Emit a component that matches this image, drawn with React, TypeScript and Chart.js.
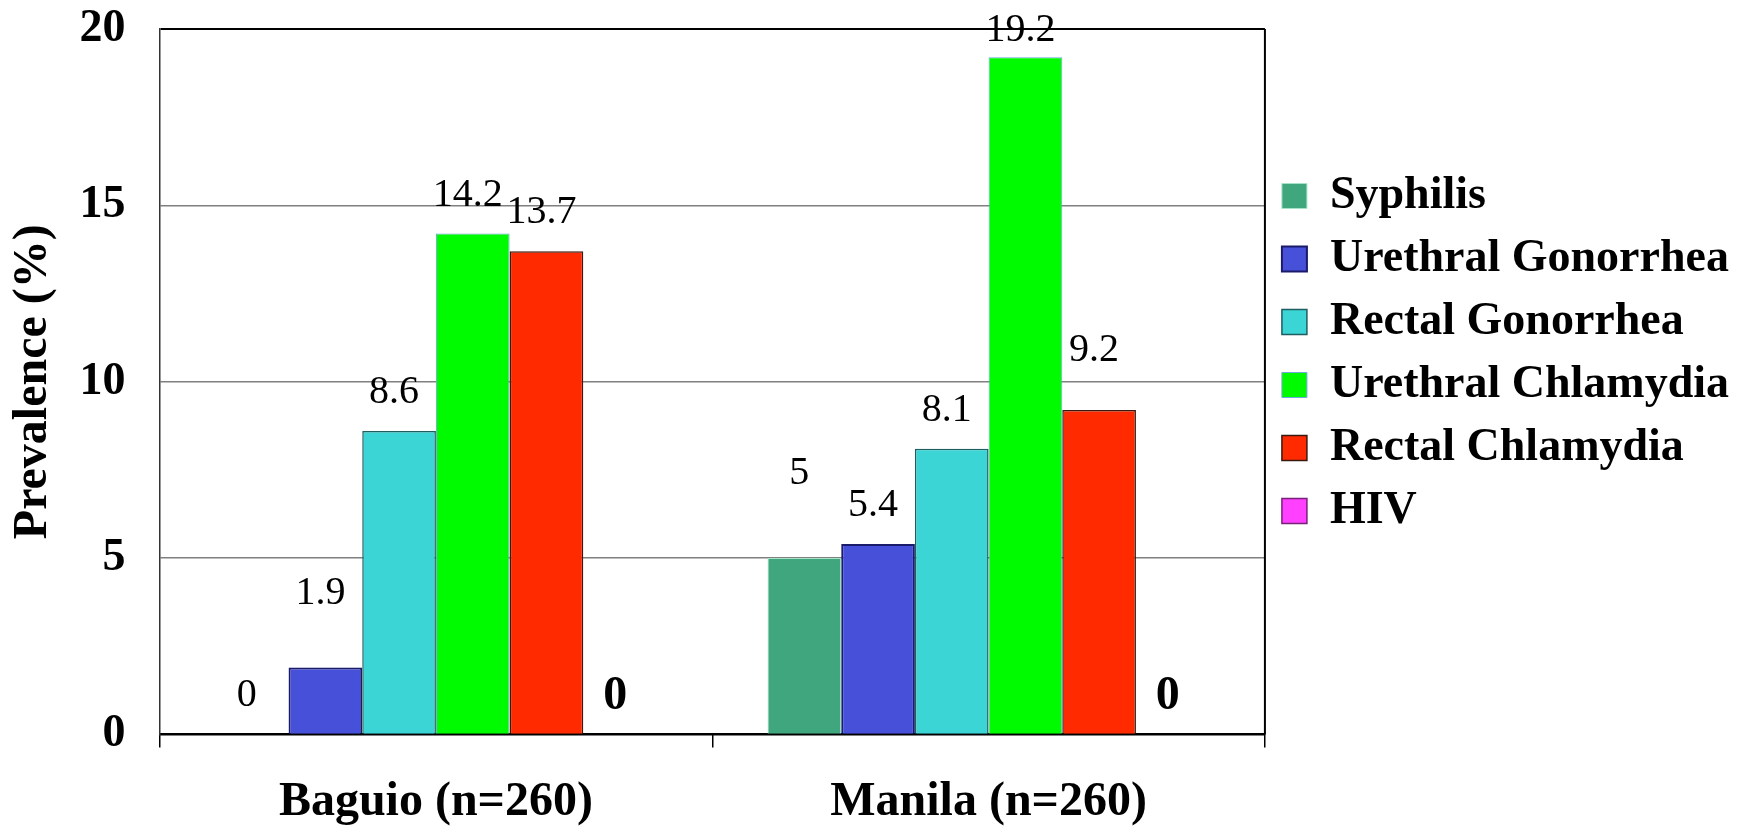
import React, { useEffect, useRef } from 'react';
import { Chart, registerables } from 'chart.js';

Chart.register(...registerables);

const categories = ['Baguio (n=260)', 'Manila (n=260)'];
const seriesNames = [
  'Syphilis',
  'Urethral Gonorrhea',
  'Rectal Gonorrhea',
  'Urethral Chlamydia',
  'Rectal Chlamydia',
  'HIV',
];
const syphilis = [0, 5];
const urethralGonorrhea = [1.9, 5.4];
const rectalGonorrhea = [8.6, 8.1];
const urethralChlamydia = [14.2, 19.2];
const rectalChlamydia = [13.7, 9.2];
const hiv = [0, 0];
const yTicks = [0, 5, 10, 15, 20];

const FONT = "'Liberation Serif', 'Times New Roman', serif";

const fills = ['#40A67D', '#4650D8', '#3CD5D6', '#00FA00', '#FF2A00', '#FF40FF'];
const borders = ['#A6E3C6', '#1B1B6B', '#1E5E60', '#6FA8DC', '#3A1A10', '#7A207A'];
const borderWidths = [1, 2, 1.5, 1, 1.5, 1.5];

// extra vertical lift (px) of each value label above its bar, per series per category
const labelLift = [
  [0, 46],
  [35, 0],
  [0, 0],
  [0, -12],
  [0, 21],
  [-3, -3],
];
const boldLabelSeries = [5];

const valueLabels = {
  id: 'valueLabels',
  afterDatasetsDraw(chart: any) {
    const ctx = chart.ctx;
    chart.data.datasets.forEach((ds: any, i: number) => {
      const meta = chart.getDatasetMeta(i);
      meta.data.forEach((bar: any, j: number) => {
        const v = ds.data[j];
        const bold = boldLabelSeries.includes(i);
        ctx.save();
        ctx.font = `${bold ? 'bold 48px' : '40px'} ${FONT}`;
        ctx.fillStyle = '#000';
        ctx.textAlign = 'center';
        ctx.textBaseline = 'alphabetic';
        ctx.fillText(String(v), bar.x - 5, bar.y - 28 - labelLift[i][j]);
        ctx.restore();
      });
    });
  },
};

const frame = {
  id: 'frame',
  afterDraw(chart: any) {
    const { ctx, chartArea } = chart;
    ctx.save();
    ctx.strokeStyle = '#000';
    ctx.lineWidth = 2;
    ctx.beginPath();
    ctx.moveTo(chartArea.right, chartArea.top);
    ctx.lineTo(chartArea.right, chartArea.bottom);
    ctx.stroke();
    ctx.restore();
  },
};

export default function App() {
  const ref = useRef<HTMLCanvasElement | null>(null);

  useEffect(() => {
    if (!ref.current) return;
    const seriesData = [syphilis, urethralGonorrhea, rectalGonorrhea, urethralChlamydia, rectalChlamydia, hiv];
    const chart = new Chart(ref.current, {
      type: 'bar',
      data: {
        labels: categories,
        datasets: seriesNames.map((name, i) => ({
          label: name,
          data: seriesData[i],
          backgroundColor: fills[i],
          borderColor: borders[i],
          borderWidth: borderWidths[i],
          categoryPercentage: 0.8,
          barPercentage: 1.0,
        })),
      },
      options: {
        responsive: false,
        animation: false,
        // negative left padding widens the layout's per-box width budget so the legend is not clipped;
        // the y-axis title padding below compensates for it
        layout: { padding: { left: -170, right: 5, top: 29, bottom: -28 } },
        plugins: {
          legend: {
            position: 'right',
            align: 'start',
            title: { display: true, text: ' ', font: { size: 10 }, padding: { top: 115, bottom: 0 } },
            labels: {
              boxWidth: 25,
              boxHeight: 25,
              padding: 17,
              color: '#000',
              font: { family: FONT, size: 46, weight: 'bold' },
            },
          },
          tooltip: { enabled: false },
        },
        scales: {
          x: {
            grid: {
              display: true,
              drawOnChartArea: false,
              drawTicks: true,
              tickLength: 13,
              color: '#000',
              lineWidth: 1.5,
            },
            border: { display: true, color: '#000', width: 2 },
            ticks: {
              color: '#000',
              padding: 26,
              font: { family: FONT, size: 48, weight: 'bold' },
            },
          },
          y: {
            min: 0,
            max: 20,
            afterBuildTicks: (axis: any) => {
              axis.ticks = yTicks.map((v) => ({ value: v }));
            },
            ticks: {
              color: '#000',
              padding: 1,
              font: { family: FONT, size: 46, weight: 'bold' },
            },
            grid: {
              color: (c: any) => (c.tick && (c.tick.value === 20 || c.tick.value === 0) ? '#000' : '#808080'),
              lineWidth: (c: any) => (c.tick && c.tick.value === 20 ? 2 : 1.5),
              drawTicks: true,
              tickLength: 33,
              tickColor: 'rgba(0,0,0,0)',
            },
            border: { display: true, color: '#333', width: 1.5 },
            title: {
              display: true,
              text: 'Prevalence (%)',
              color: '#000',
              font: { family: FONT, size: 48, weight: 'bold' },
              padding: { top: 175, bottom: 16 },
            },
          },
        },
      },
      plugins: [valueLabels, frame],
    } as any);
    return () => chart.destroy();
  }, []);

  return (
    <div style={{ position: 'fixed', left: 0, top: 0, width: 1744, height: 829, background: '#fff' }}>
      <canvas ref={ref} width={1744} height={829} style={{ display: 'block' }} />
    </div>
  );
}
